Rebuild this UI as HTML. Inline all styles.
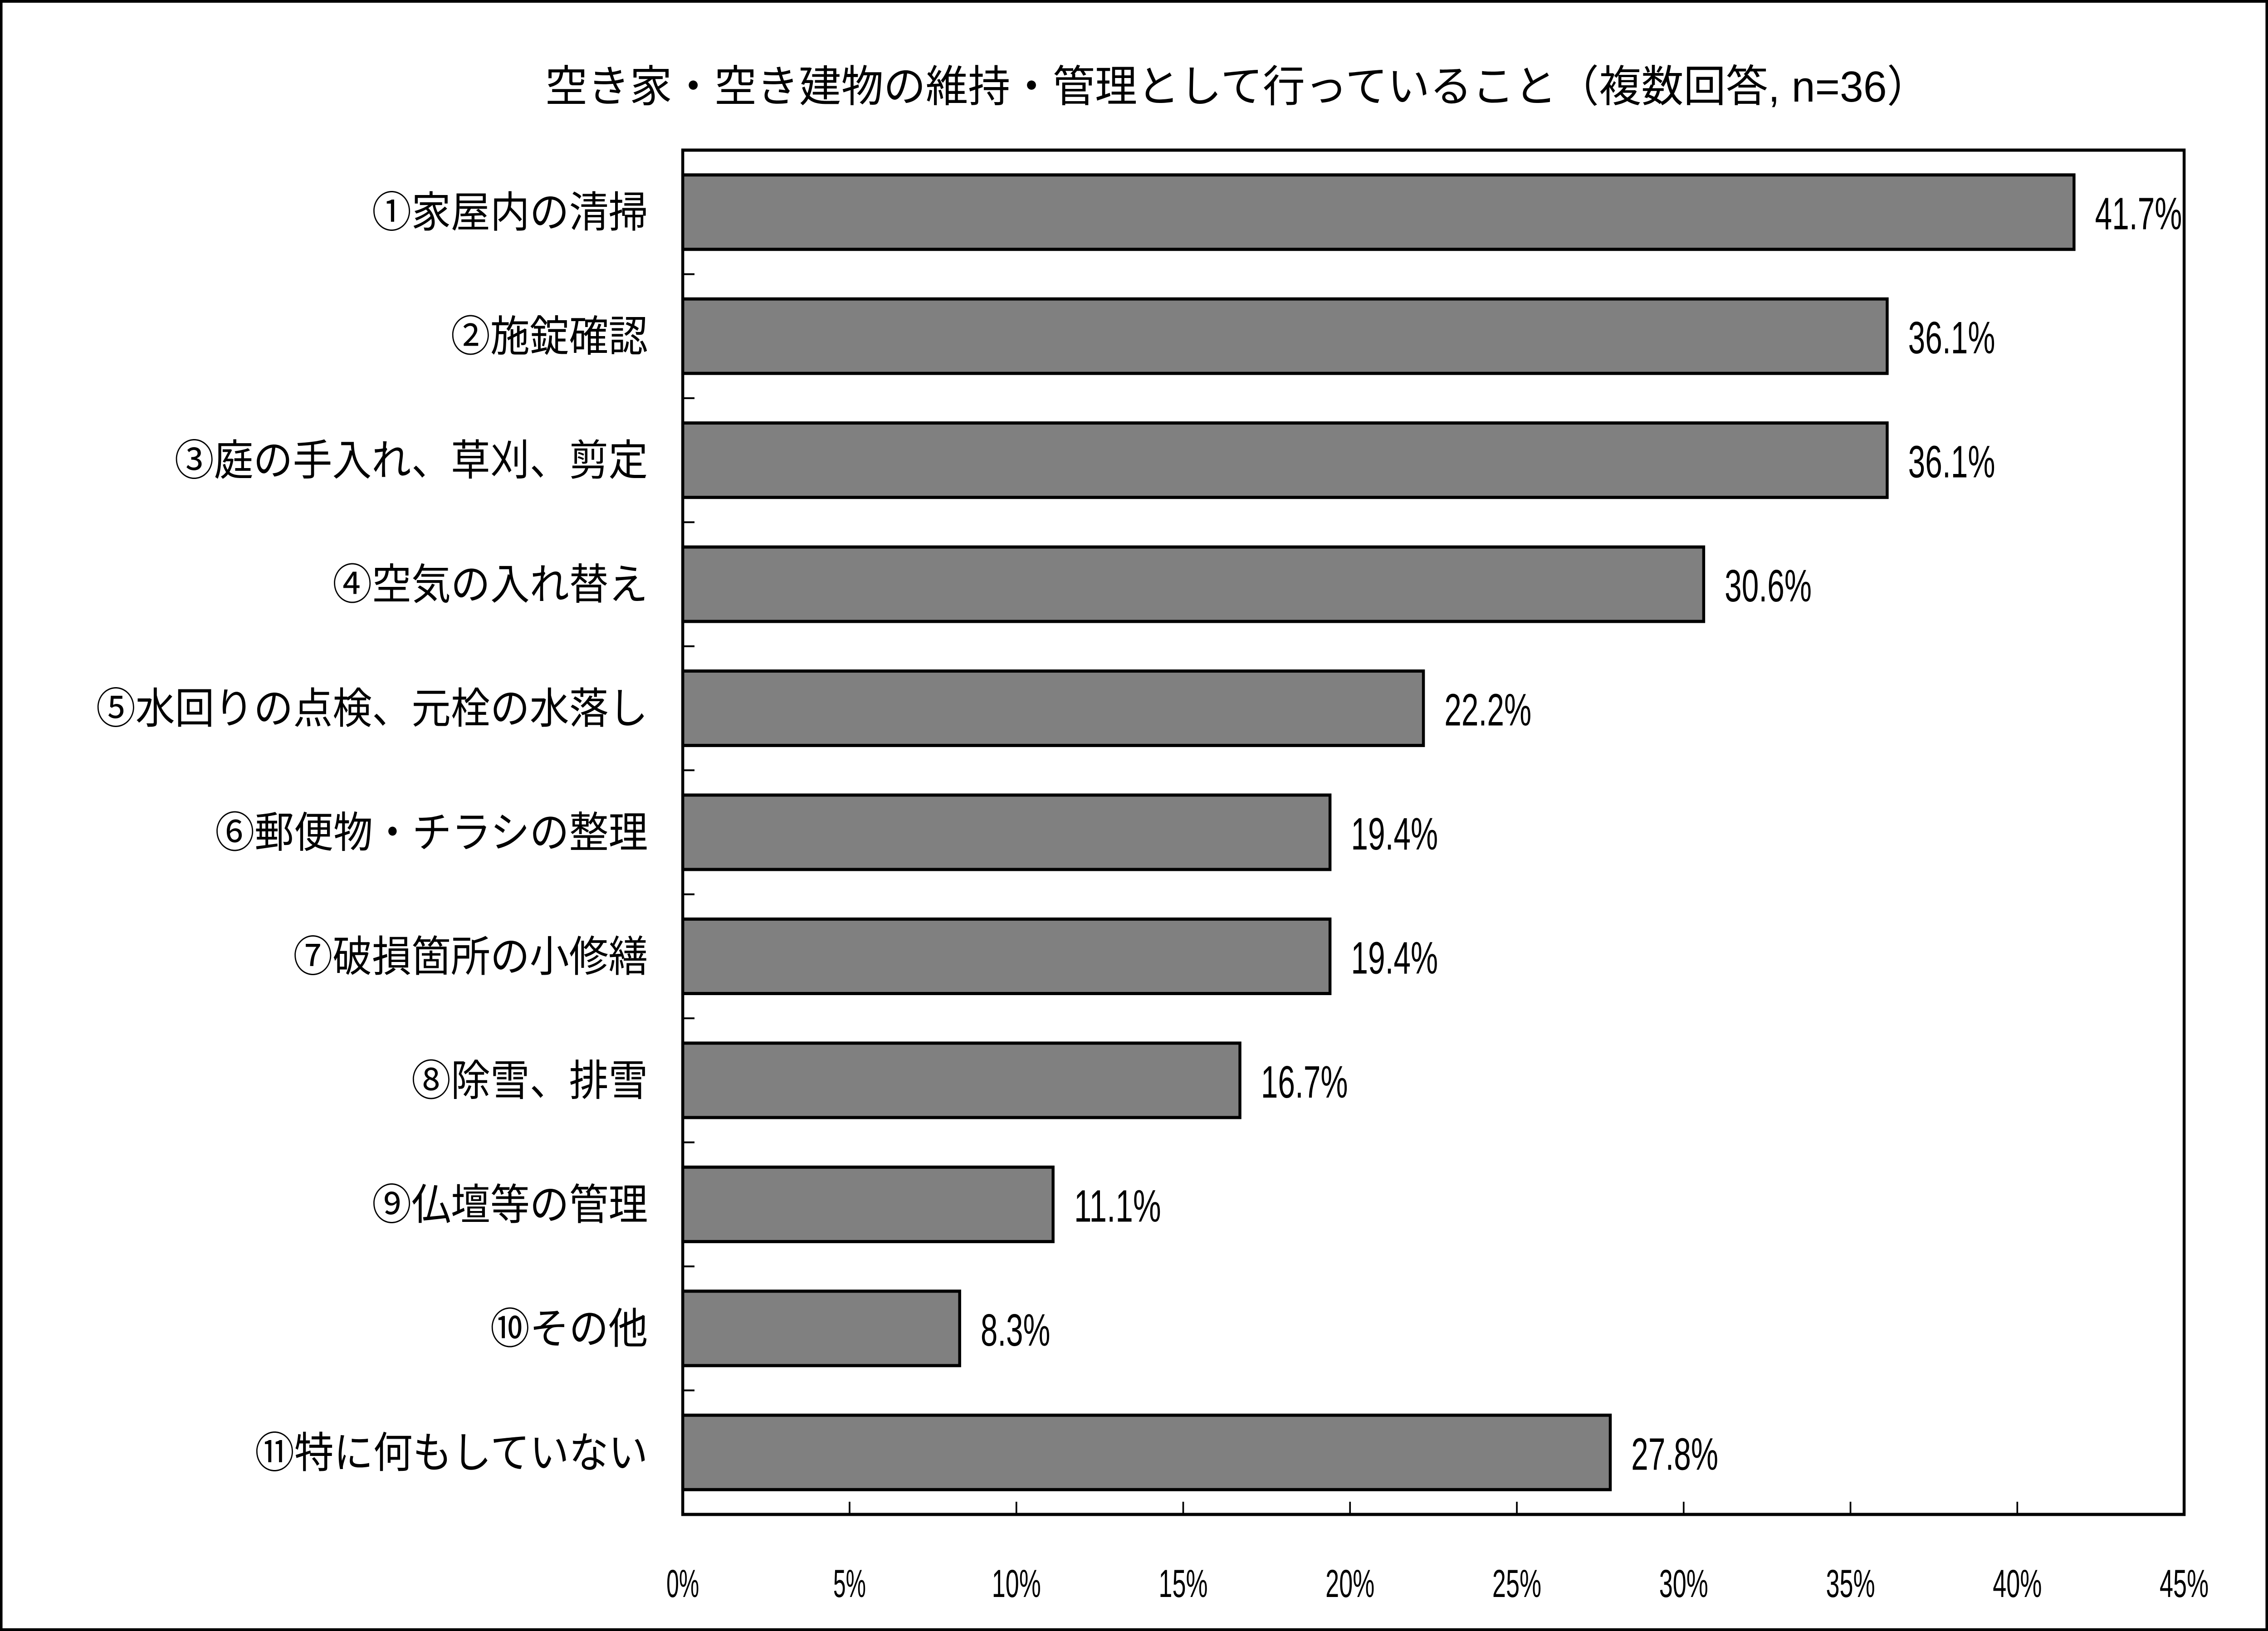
<!DOCTYPE html>
<html><head><meta charset="utf-8"><style>
html,body{margin:0;padding:0;background:#fff;overflow:hidden;width:100vw;height:100vh}
svg{display:block;width:100vw;height:100vh}
</style></head><body>
<svg id="chart" viewBox="0 0 5408 3596" preserveAspectRatio="none" xmlns="http://www.w3.org/2000/svg">
<rect x="3" y="3" width="5402" height="3590" fill="#fff" stroke="#000" stroke-width="6"/>
<text x="2950" y="224" text-anchor="middle" font-family="'Liberation Sans','Noto Sans CJK JP',sans-serif" font-size="96" textLength="3300" lengthAdjust="spacingAndGlyphs">空き家・空き建物の維持・管理として行っていること（複数回答, n=36）</text>
<g id="plot"></g>
</svg>
<script>
const categories = ["①家屋内の清掃","②施錠確認","③庭の手入れ、草刈、剪定","④空気の入れ替え","⑤水回りの点検、元栓の水落し","⑥郵便物・チラシの整理","⑦破損箇所の小修繕","⑧除雪、排雪","⑨仏壇等の管理","⑩その他","⑪特に何もしていない"];
const values = [41.7,36.1,36.1,30.6,22.2,19.4,19.4,16.7,11.1,8.3,27.8];
const valueLabels = ["41.7%","36.1%","36.1%","30.6%","22.2%","19.4%","19.4%","16.7%","11.1%","8.3%","27.8%"];
const xTicks = [0,5,10,15,20,25,30,35,40,45];
const xTickLabels = ["0%","5%","10%","15%","20%","25%","30%","35%","40%","45%"];

const NS="http://www.w3.org/2000/svg";
const L=1628,R=5208,T=331,B=3339,XMAX=45;
const x=v=>L+(R-L)*v/XMAX;
const band=(B-T)/categories.length;
const y=i=>T+band*i;
const g=document.getElementById('plot');
function mk(tag,attrs){const e=document.createElementNS(NS,tag);for(const k in attrs)e.setAttribute(k,attrs[k]);g.appendChild(e);return e;}
const FONT="'Liberation Sans','Noto Sans CJK JP',sans-serif";

categories.forEach((c,i)=>{
  const bh=band*0.6, top=y(i)+(band-bh)/2;
  const r=mk('rect',{x:L,y:top,width:x(values[i])-L,height:bh,fill:'#808080',stroke:'#000','stroke-width':7});
  
  
  const t=mk('text',{x:1545,y:top+bh/2+33,'text-anchor':'end','font-family':FONT,'font-size':94});
  t.textContent=c;
  
  
  const lab=valueLabels[i];
  const v=mk('text',{x:x(values[i])+50,y:top+bh/2+38,'font-family':FONT,'font-size':100,textLength:lab.length*41.5,lengthAdjust:'spacingAndGlyphs'});
  v.textContent=lab;
  
  
  if(i>0){
    const tk=mk('line',{x1:L,x2:L+28,y1:y(i),y2:y(i),stroke:'#000','stroke-width':4});
    
    
  }
});
xTicks.forEach((v,i)=>{
  const tk=mk('line',{x1:x(v),x2:x(v),y1:B,y2:B-28,stroke:'#000','stroke-width':4});
  
  
  const lab=xTickLabels[i];
  const t=mk('text',{x:x(v),y:3521,'text-anchor':'middle','font-family':FONT,'font-size':86,textLength:lab.length*39,lengthAdjust:'spacingAndGlyphs'});
  t.textContent=lab;
  
  
});
const frame=mk('rect',{x:L,y:T,width:R-L,height:B-T,fill:'none',stroke:'#000','stroke-width':7});


</script>
</body></html>
